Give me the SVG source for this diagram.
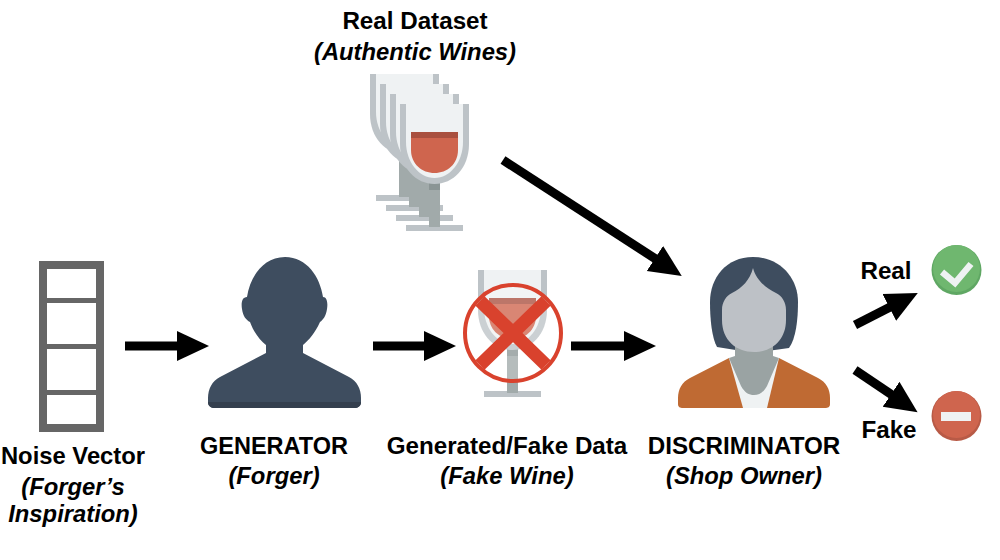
<svg xmlns="http://www.w3.org/2000/svg" xmlns:xlink="http://www.w3.org/1999/xlink" width="1000" height="560" viewBox="0 0 1000 560">
<style>
text{font-family:"Liberation Sans",Arial,sans-serif;font-size:24.200px;font-weight:700;fill:#000;text-anchor:middle}
.i{font-style:italic;font-size:23.800px}
.arrow{stroke:#000;stroke-width:9;fill:none;marker-end:url(#head)}
</style>
<defs>
<marker id="head" markerUnits="userSpaceOnUse" markerWidth="34" markerHeight="34" refX="12" refY="17" orient="auto"><path d="M0 2L32 17L0 32Z" fill="#000"/></marker>
<g id="glass">
<rect x="6" y="121" width="57" height="6" fill="#bdc3c7"/>
<rect x="29" y="78" width="11" height="45" fill="#a1aaaa"/>
<rect x="29" y="78" width="11" height="8" fill="#8b9595"/>
<path d="M0 0H69V40C69 64 53 80 34.500 80C16 80 0 64 0 40Z" fill="#bdc3c7"/>
<path d="M6 0H63V38C63 58 50 74 34.500 74C19 74 6 58 6 38Z" fill="#eff2f3"/>
<path d="M11 28H58V46C58 60 47 69 34.500 69C22 69 11 60 11 46Z" fill="#cf654e"/>
<rect x="11" y="28" width="47" height="6" fill="#a9503f"/>
</g>
</defs>
<g id="real-dataset">
<use href="#glass" xlink:href="#glass" x="370" y="74"/>
<use href="#glass" xlink:href="#glass" x="380" y="84"/>
<use href="#glass" xlink:href="#glass" x="390" y="94"/>
<use href="#glass" xlink:href="#glass" x="400" y="104"/>
<text x="415" y="29">Real Dataset</text>
<text x="415" y="60" class="i">(Authentic Wines)</text>
</g>
<g id="noise-vector">
<rect x="43" y="265" width="57" height="163" fill="#fff" stroke="#666" stroke-width="8"/>
<path d="M47 300.500H96M47 346.500H96M47 392.500H96" stroke="#666" stroke-width="5" fill="none"/>
<text x="73" y="464" style="font-size:23.800px">Noise Vector</text>
<text x="73" y="495" class="i">(Forger’s</text>
<text x="73" y="522" class="i">Inspiration)</text>
</g>
<g id="generator">
<path d="M285 257C307 257 320 277 323 297C327 297 328 303 327 309C326 316 323 320 320 322C315 333 309 340 303 345V353L349 377C357 381 361 389 361 398V402C361 406 358 408 354 408H215C211 408 208 406 208 402V398C208 389 212 381 220 377L266 353V345C260 340 254 333 250 322C246 320 243 316 242 309C241 303 242 297 247 297C250 277 263 257 285 257Z" fill="#3e4d5f"/>
<path d="M208 402H361C361 406 358 408 354 408H215C211 408 208 406 208 402Z" fill="#343f4e"/>
<text x="274" y="454" style="font-size:23.500px">GENERATOR</text>
<text x="274" y="484" class="i">(Forger)</text>
</g>
<g id="fake-data">
<use href="#glass" xlink:href="#glass" x="478" y="270"/>
<circle cx="513" cy="333" r="48" fill="#fff" fill-opacity=".22" stroke="#d9422d" stroke-width="4"/>
<path d="M480 301L546 365M546 301L480 365" stroke="#d9422d" stroke-width="13" fill="none"/>
<text x="507" y="454">Generated/Fake Data</text>
<text x="507" y="484" class="i">(Fake Wine)</text>
</g>
<g id="discriminator">
<path d="M753 257C780 257 798 278 798 302C798 320 796 338 789 348L760 352H748L717 347C712 338 710 320 710 302C710 278 726 257 753 257Z" fill="#3e4d5f"/>
<path d="M729 358L690 378C682 382 678 389 678 398V404C678 407 680 408 683 408H825C828 408 830 407 830 404V398C830 389 826 382 818 378L779 358Z" fill="#bf6a33"/>
<path d="M729 358L743 408H767L779 358Z" fill="#eff2f3"/>
<path d="M729 358L741 386C745 393 749 395 754 395C759 395 763 393 767 386L779 358L773 356V345H735V356Z" fill="#9aa3a3"/>
<path d="M753 268C750 280 742 288 732 293C726 296 722 302 722 310V320C722 340 736 352 754 352C772 352 786 340 786 320V310C786 302 782 296 776 293C766 288 756 280 753 268Z" fill="#bdc1c6"/>
<text x="744" y="454">DISCRIMINATOR</text>
<text x="744" y="484" class="i">(Shop Owner)</text>
</g>
<g id="real-output">
<circle cx="956.500" cy="270" r="25" fill="#5fa763"/>
<circle cx="956.500" cy="268.500" r="23.500" fill="#6fb76f"/>
<path d="M942 272L955 283L971 264" stroke="#eff2f3" stroke-width="6.500" fill="none"/>
<text x="886" y="279">Real</text>
</g>
<g id="fake-output">
<circle cx="956.500" cy="416" r="25" fill="#b85a46"/>
<circle cx="956.500" cy="414.500" r="23.500" fill="#cf654e"/>
<rect x="941" y="412" width="30" height="9" fill="#eff2f3"/>
<text x="889" y="438">Fake</text>
</g>
<g id="connectors">
<path class="arrow" d="M125 346H189"/>
<path class="arrow" d="M373 346H436"/>
<path class="arrow" d="M571 346H636"/>
<path class="arrow" d="M503 160L665 265"/>
<path class="arrow" d="M855 325L900 302"/>
<path class="arrow" d="M855 370L901 401"/>
</g>
</svg>
